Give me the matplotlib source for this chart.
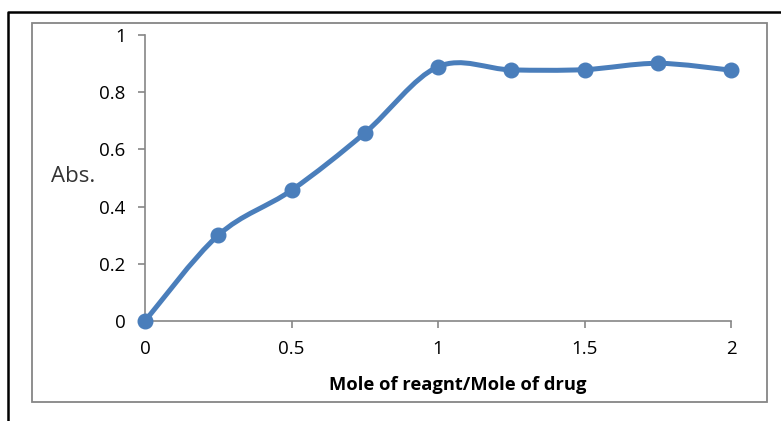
import matplotlib.pyplot as plt
from matplotlib.path import Path
from matplotlib.patches import PathPatch, Rectangle
from matplotlib.lines import Line2D

# data
mole_ratio = [0, 0.25, 0.5, 0.75, 1.0, 1.25, 1.5, 1.75, 2.0]
absorbance = [0.0, 0.30, 0.457, 0.657, 0.889, 0.878, 0.879, 0.901, 0.877]
x_ticks = [0, 0.5, 1, 1.5, 2]
x_tick_labels = ["0", "0.5", "1", "1.5", "2"]
y_ticks = [0, 0.2, 0.4, 0.6, 0.8, 1]
y_tick_labels = ["0", "0.2", "0.4", "0.6", "0.8", "1"]

BLUE = "#4A7EBB"
GRAY = "#868686"
W, H = 781, 421

plt.rcParams["font.family"] = ["Open Sans", "DejaVu Sans"]


def smooth_path(xs, ys):
    # Excel style smoothed line: cubic bezier with catmull-rom control points
    verts = [(xs[0], ys[0])]
    codes = [Path.MOVETO]
    n = len(xs)
    for i in range(n - 1):
        x0, y0 = (xs[i - 1], ys[i - 1]) if i > 0 else (xs[i], ys[i])
        x1, y1 = xs[i], ys[i]
        x2, y2 = xs[i + 1], ys[i + 1]
        x3, y3 = (xs[i + 2], ys[i + 2]) if i + 2 < n else (x2, y2)
        c1 = (x1 + (x2 - x0) / 6, y1 + (y2 - y0) / 6)
        c2 = (x2 - (x3 - x1) / 6, y2 - (y3 - y1) / 6)
        verts += [c1, c2, (x2, y2)]
        codes += [Path.CURVE4] * 3
    return Path(verts, codes)


fig = plt.figure(figsize=(W / 100, H / 100), dpi=100)
ax = fig.add_axes([145 / W, 1 - 321 / H, (731 - 145) / W, (321 - 35) / H])

ax.add_patch(PathPatch(smooth_path(mole_ratio, absorbance), fill=False,
                       edgecolor=BLUE, linewidth=3.6, capstyle="round",
                       joinstyle="round", zorder=3, clip_on=False))
ax.plot(mole_ratio, absorbance, linestyle="none", marker="o", markersize=10.5,
        color=BLUE, zorder=4, clip_on=False)

ax.set_xlim(0, 2)
ax.set_ylim(0, 1)
ax.set_xticks(x_ticks)
ax.set_xticklabels(x_tick_labels)
ax.set_yticks(y_ticks)
ax.set_yticklabels(y_tick_labels)

for side in ["top", "right"]:
    ax.spines[side].set_visible(False)
for side in ["left", "bottom"]:
    ax.spines[side].set_color(GRAY)
    ax.spines[side].set_linewidth(1.2)

ax.tick_params(axis="both", direction="out", length=5, width=1.2, color=GRAY,
               labelsize=13.5, labelcolor="black")
ax.tick_params(axis="y", pad=9)
ax.tick_params(axis="x", pad=9)

fig.text(458 / W, 1 - 385 / H, "Mole of reagnt/Mole of drug", ha="center",
         va="center", fontsize=13.2, fontweight="bold")
fig.text(51 / W, 1 - 176 / H, "Abs.", ha="left", va="center", fontsize=16,
         color="#333333")

# chart area border and the outer frame
fig.patches.append(Rectangle((32 / W, 1 - 402 / H), (767 - 32) / W, (402 - 23) / H,
                             transform=fig.transFigure, fill=False,
                             edgecolor=GRAY, linewidth=1.3))
fig.lines.append(Line2D([8 / W, 8 / W, 1.0], [0.0, 1 - 12 / H, 1 - 12 / H],
                        transform=fig.transFigure, color="black", linewidth=1.8))

fig.savefig("out.png", dpi=100)
